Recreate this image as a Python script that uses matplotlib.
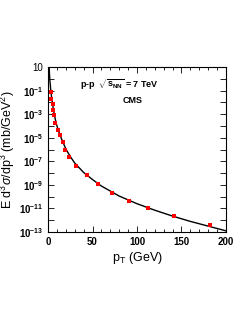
import matplotlib
matplotlib.use("Agg")
import matplotlib.pyplot as plt
import numpy as np
from matplotlib.ticker import FixedLocator, MultipleLocator, NullFormatter, FixedFormatter

# CMS p-p 7 TeV data points
pt_data = [3.0, 3.8, 5.0, 5.7, 6.8, 8.3, 11.0, 13.5, 16.3, 19.2, 23.7,
           31.3, 43.7, 55.8, 71.6, 91.5, 111.9, 142.0, 182.0]
log_xsec_data = [-1.12, -1.68, -2.10, -2.61, -3.04, -3.75, -4.35, -4.80, -5.36,
                 -6.07, -6.63, -7.36, -8.19, -8.95, -9.69, -10.39, -10.98,
                 -11.64, -12.40]

# fit curve
pt_fit = [1.0, 1.5, 2, 3, 4, 5, 6, 8, 10, 13, 16, 20, 25, 30, 40, 50, 60,
          80, 100, 120, 140, 160, 180, 200]
log_xsec_fit = [1.3, 0.5, -0.1, -0.95, -1.6, -2.1, -2.6, -3.4, -4.0, -4.7,
                -5.25, -5.95, -6.6, -7.15, -7.95, -8.55, -9.1, -9.95, -10.6,
                -11.15, -11.65, -12.1, -12.5, -12.9]

ytick_exps = [1, -1, -3, -5, -7, -9, -11, -13]
ytick_labels = ["10"] + [r"$\mathbf{10^{%d}}$" % e for e in ytick_exps[1:]]
yminor_exps = [0, -2, -4, -6, -8, -10, -12]

plt.rcParams["font.family"] = "sans-serif"
plt.rcParams["font.sans-serif"] = ["Liberation Sans", "DejaVu Sans"]
plt.rcParams["mathtext.fontset"] = "custom"
plt.rcParams["mathtext.rm"] = "Liberation Sans"
plt.rcParams["mathtext.bf"] = "Liberation Sans:bold"
plt.rcParams["mathtext.it"] = "Liberation Sans:italic"

fig = plt.figure(figsize=(2.53, 3.27), dpi=100)
ax = fig.add_axes([0.190, 0.2905, 0.703, 0.5045])

ax.plot(pt_fit, 10.0 ** np.array(log_xsec_fit), color="black", lw=1.0, zorder=2)
ax.plot(pt_data, 10.0 ** np.array(log_xsec_data), "s", color="red",
        markersize=3.5, markeredgewidth=0, zorder=3)

ax.set_yscale("log")
ax.set_xlim(0, 200)
ax.set_ylim(1e-13, 1e1)

ax.xaxis.set_major_locator(MultipleLocator(50))
ax.xaxis.set_minor_locator(MultipleLocator(10))
ax.yaxis.set_major_locator(FixedLocator([10.0 ** e for e in ytick_exps]))
ax.yaxis.set_major_formatter(FixedFormatter(ytick_labels))
ax.yaxis.set_minor_locator(FixedLocator([10.0 ** e for e in yminor_exps]))
ax.yaxis.set_minor_formatter(NullFormatter())

ax.tick_params(which="both", direction="in", top=True, right=True,
               labelsize=7, width=0.6)
ax.tick_params(which="major", length=4)
ax.tick_params(which="minor", length=2)
ax.tick_params(axis="y", which="minor", length=4)
for lab in ax.get_xticklabels():
    lab.set_fontweight("bold")
for spine in ax.spines.values():
    spine.set_linewidth(0.8)

ax.set_xlabel(r"p$_{\mathrm{T}}$ (GeV)", fontsize=9, labelpad=2)
ax.set_ylabel(r"E d$^3\sigma$/dp$^3$ (mb/GeV$^2$)", fontsize=9, labelpad=1)

ax.text(0.18, 0.87, r"p-p  $\sqrt{\mathbf{s}_{\mathbf{NN}}}$ = 7 TeV",
        transform=ax.transAxes, fontsize=6.5, fontweight="bold")
ax.text(0.42, 0.78, "CMS", transform=ax.transAxes, fontsize=6.5, fontweight="bold")

fig.savefig("out.png", dpi=100)
